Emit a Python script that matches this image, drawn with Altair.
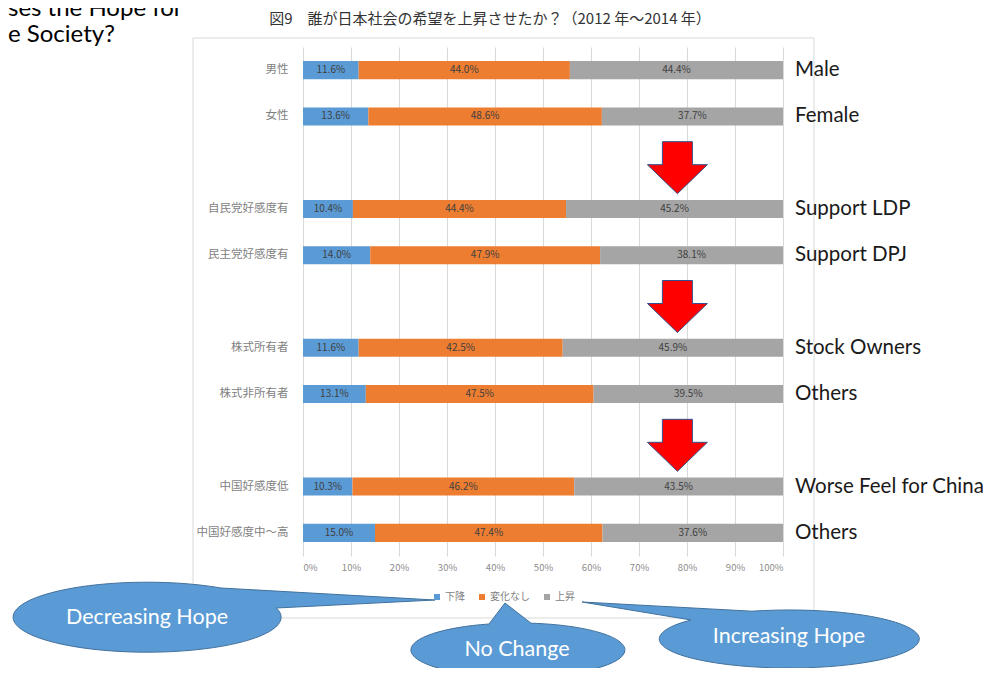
import altair as alt
import pandas as pd

# ---------------- data ----------------
categories = ["男性", "女性", "自民党好感度有", "民主党好感度有",
              "株式所有者", "株式非所有者", "中国好感度低", "中国好感度中～高"]
english = ["Male", "Female", "Support LDP", "Support DPJ",
           "Stock Owners", "Others", "Worse Feel for China", "Others"]
decrease = [11.6, 13.6, 10.4, 14.0, 11.6, 13.1, 10.3, 15.0]
nochange = [44.0, 48.6, 44.4, 47.9, 42.5, 47.5, 46.2, 47.4]
increase = [44.4, 37.7, 45.2, 38.1, 45.9, 39.5, 43.5, 37.6]
series = ["下降", "変化なし", "上昇"]
colors = ["#5B9BD5", "#ED7D31", "#A5A5A5"]
slots = ["男性", "女性", " ", "自民党好感度有", "民主党好感度有", "  ",
         "株式所有者", "株式非所有者", "   ", "中国好感度低", "中国好感度中～高"]
arrow_slots = [" ", "  ", "   "]
arrow_x = [0.78, 0.78, 0.78]
tick_values = [0, 0.1, 0.2, 0.3, 0.4, 0.5, 0.6, 0.7, 0.8, 0.9, 1.0]

chart_title = "図9　誰が日本社会の希望を上昇させたか？（2012 年～2014 年）"
slide_lines = ["ses the Hope for", "e Society?"]
callouts = ["Decreasing Hope", "No Change", "Increasing Hope"]

rows = []
for i, c in enumerate(categories):
    for j, vals in enumerate([decrease, nochange, increase]):
        rows.append({"cat": c, "series": series[j], "order": j,
                     "value": vals[i], "label": f"{vals[i]:.1f}%"})
df = pd.DataFrame(rows)
df_eng = pd.DataFrame({"cat": categories, "eng": english})
df_arrow = pd.DataFrame({"cat": arrow_slots, "x": arrow_x})

# ---------------- layout ----------------
W, H = 480, 509
OX, OY = 303, 47          # page position of plot origin


def px(x):
    return x - OX


def py(y):
    return y - OY


ENG_FONT = "Lato"
JP_FONT = "Noto Sans CJK JP"

xscale = alt.Scale(domain=[0, 1], nice=False, zero=True)
yscale = alt.Scale(domain=slots, paddingInner=0.61, paddingOuter=0.305)
xaxis = alt.Axis(title=None, format=".0%", values=tick_values, grid=True,
                 gridColor="#D9D9D9", gridWidth=1, domain=False, ticks=False,
                 labelFontSize=9.5, labelColor="#8C8C8C", labelFont=JP_FONT,
                 labelPadding=6)
yaxis = alt.Axis(title=None, domain=False, ticks=False, grid=False,
                 labelPadding=15, labelFontSize=11.5, labelColor="#7F7F7F",
                 labelFont=JP_FONT, labelLimit=300)

base = alt.Chart(df).transform_stack(
    stack="value", groupby=["cat"], as_=["v0", "v1"], offset="normalize",
    sort=[alt.SortField("order", order="ascending")]
).transform_calculate(mid="(datum.v0 + datum.v1) / 2")

bars = base.mark_bar().encode(
    y=alt.Y("cat:N", scale=yscale, axis=yaxis),
    x=alt.X("v0:Q", scale=xscale, axis=xaxis),
    x2="v1:Q",
    color=alt.Color("series:N", scale=alt.Scale(domain=series, range=colors),
                    legend=alt.Legend(orient="none", legendX=129, legendY=545,
                                      direction="horizontal", title=None,
                                      symbolType="square", symbolSize=36,
                                      symbolStrokeWidth=0, labelFontSize=10,
                                      labelFont=JP_FONT, labelColor="#7F7F7F",
                                      columnPadding=12, labelOffset=3)),
)

vals = base.mark_text(font=JP_FONT, fontSize=10, color="#404040").encode(
    y=alt.Y("cat:N", scale=yscale, axis=yaxis),
    x=alt.X("mid:Q", scale=xscale, axis=xaxis),
    text="label:N",
)

eng = alt.Chart(df_eng).mark_text(font=ENG_FONT, fontSize=20.5, align="left",
                                  baseline="middle", color="#1a1a1a").encode(
    y=alt.Y("cat:N", scale=yscale, axis=yaxis),
    x=alt.value(px(795)),
    text="eng:N",
)

arrow_path = "M -15 -21 L 15 -21 L 15 2 L 30 2 L 0 31 L -30 2 L -15 2 Z"
arrows = alt.Chart(df_arrow).mark_point(
    shape=arrow_path, size=4, filled=True, fill="#FF0000", stroke="#2F528F",
    strokeWidth=1, opacity=1
).encode(
    y=alt.Y("cat:N", scale=yscale, axis=yaxis),
    x=alt.X("x:Q", scale=xscale, axis=xaxis),
)


def text_layer(t, x, y, **kw):
    return alt.Chart(pd.DataFrame({"t": [t]})).mark_text(**kw).encode(
        x=alt.value(x), y=alt.value(y), text="t:N")


border = alt.Chart(pd.DataFrame({"t": [0]})).mark_rect(
    fillOpacity=0, stroke="#D9D9D9", strokeWidth=1
).encode(x=alt.value(px(193)), x2=alt.value(px(814)),
         y=alt.value(py(38)), y2=alt.value(py(618)))

title = text_layer(chart_title, px(490), py(19), font=JP_FONT, fontSize=15,
                   color="#333333", align="center", baseline="middle")
slide1 = text_layer(slide_lines[0], px(8), py(16), font=ENG_FONT, fontSize=24,
                    color="#000000", align="left", baseline="alphabetic")
slide2 = text_layer(slide_lines[1], px(8), py(42), font=ENG_FONT, fontSize=24,
                    color="#000000", align="left", baseline="alphabetic")


def callout(path, cx, cy, label, ty):
    shape = alt.Chart(pd.DataFrame({"t": [0]})).mark_point(
        shape=path, size=4, filled=True, fill="#5B9BD5", stroke="#41719C",
        strokeWidth=1, opacity=1
    ).encode(x=alt.value(px(cx)), y=alt.value(py(cy)))
    txt = text_layer(label, px(cx), py(ty), font=ENG_FONT, fontSize=21.5,
                     color="white", align="center", baseline="middle")
    return shape + txt


c1 = callout("M 74 -29 L 288 -17 L 129.4 -9 A 134 35 0 1 1 74 -29 Z",
             147, 617, callouts[0], 618)
c2 = callout("M 14 -26.8 L -12 -47 L -28 -26 A 107 27 0 1 0 14 -26.8 Z",
             517, 650, callouts[1], 650)
c3 = callout("M -37 -27.8 L -207 -37 L -98 -19 A 130 29 0 1 0 -37 -27.8 Z",
             789, 639, callouts[2], 637)

chart = alt.layer(
    border, bars, vals, eng, arrows, title, slide1, slide2, c1, c2, c3
).properties(
    width=W, height=H,
    autosize=alt.AutoSizeParams(type="none"),
    padding={"left": OX - 8, "top": OY - 8, "right": 200, "bottom": 112},
    background="white",
).configure_view(stroke=None)

chart.save("out.html", embed_options={"renderer": "svg", "actions": False})
